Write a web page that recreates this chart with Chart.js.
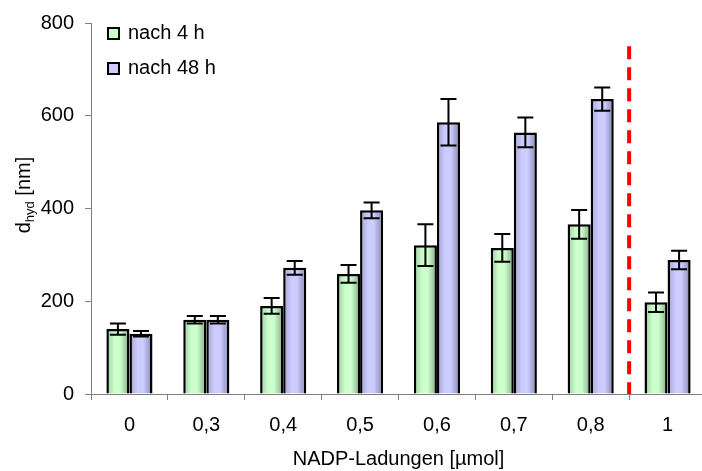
<!DOCTYPE html>
<html>
<head>
<meta charset="utf-8">
<script src="https://cdn.jsdelivr.net/npm/chart.js@4.4.0/dist/chart.umd.min.js"></script>
<style>
html,body{margin:0;padding:0;background:#fff;overflow:hidden;}
#wrap{width:702px;height:471px;position:relative;overflow:hidden;}
</style>
</head>
<body>
<div id="wrap"><canvas id="c" width="706" height="471"></canvas></div>
<script>
const categories = ['0', '0,3', '0,4', '0,5', '0,6', '0,7', '0,8', '1'];
const seriesNames = ['nach 4 h', 'nach 48 h'];
const values4h = [140, 160, 190, 259, 321, 315, 366, 198];
const errors4h = [12, 8, 17, 19, 45, 30, 31, 21];
const values48h = [130, 160, 272, 396, 586, 564, 636, 289];
const errors48h = [6, 8, 15, 17, 50, 32, 25, 20];
const yTicks = [0, 200, 400, 600, 800];
const dividerAfterIndex = 6;   // dashed line between '0,8' and '1'
const dividerTop = 750;

const FONT = 'Arial, "Liberation Sans", sans-serif';
const CAT_PCT = 0.6;

const palettes = [
  {edgeL: '#9ccc9c', mid: '#ccffcc', edgeR: '#86a886', flat: '#ccffcc'},
  {edgeL: '#a0a0d0', mid: '#ccccff', edgeR: '#8484ae', flat: '#ccccff'}
];

function barGradient(c) {
  const pal = palettes[c.datasetIndex];
  const ch = c.chart;
  const xs = ch.scales && ch.scales.x;
  if (!xs || !ch.chartArea || c.dataIndex == null || c.type !== 'data') return pal.flat;
  const cw = xs.getPixelForValue(1) - xs.getPixelForValue(0);
  const bw = cw * CAT_PCT / 2;
  const cx = xs.getPixelForValue(c.dataIndex) + (c.datasetIndex === 0 ? -bw / 2 : bw / 2);
  const g = ch.ctx.createLinearGradient(cx - bw / 2, 0, cx + bw / 2, 0);
  g.addColorStop(0, pal.edgeL);
  g.addColorStop(0.35, pal.mid);
  g.addColorStop(0.6, pal.mid);
  g.addColorStop(1, pal.edgeR);
  return g;
}

const errorsBy = [errors4h, errors48h];

const errorBarPlugin = {
  id: 'errorBars',
  afterDatasetsDraw(chart) {
    const ctx = chart.ctx;
    const ys = chart.scales.y;
    ctx.save();
    ctx.strokeStyle = '#000';
    ctx.lineWidth = 2;
    chart.data.datasets.forEach((ds, di) => {
      const meta = chart.getDatasetMeta(di);
      meta.data.forEach((el, i) => {
        const v = ds.data[i], e = errorsBy[di][i];
        const x = el.x;
        const yT = ys.getPixelForValue(v + e), yB = ys.getPixelForValue(v - e);
        ctx.beginPath();
        ctx.moveTo(x, yT); ctx.lineTo(x, yB);
        ctx.moveTo(x - 8, yT); ctx.lineTo(x + 8, yT);
        ctx.moveTo(x - 8, yB); ctx.lineTo(x + 8, yB);
        ctx.stroke();
      });
    });
    ctx.restore();
  }
};

const dividerPlugin = {
  id: 'divider',
  afterDatasetsDraw(chart) {
    const ctx = chart.ctx;
    const xs = chart.scales.x, ys = chart.scales.y;
    const x = (xs.getPixelForValue(dividerAfterIndex) + xs.getPixelForValue(dividerAfterIndex + 1)) / 2;
    ctx.save();
    ctx.strokeStyle = '#ff0000';
    ctx.lineWidth = 4;
    ctx.setLineDash([13, 8]);
    ctx.beginPath();
    ctx.moveTo(x, ys.getPixelForValue(dividerTop));
    ctx.lineTo(x, ys.getPixelForValue(0));
    ctx.stroke();
    ctx.restore();
  }
};

const legendPlugin = {
  id: 'customLegend',
  afterDraw(chart) {
    const ctx = chart.ctx;
    ctx.save();
    const items = [{y: 33}, {y: 68}];
    items.forEach((it, i) => {
      ctx.fillStyle = palettes[i].flat;
      ctx.fillRect(108, it.y - 5, 11, 11);
      ctx.strokeStyle = '#000';
      ctx.lineWidth = 2;
      ctx.strokeRect(108, it.y - 5, 11, 11);
      ctx.fillStyle = '#000';
      ctx.font = '20px ' + FONT;
      ctx.textBaseline = 'middle';
      ctx.textAlign = 'left';
      ctx.fillText(seriesNames[i], 128, it.y);
    });
    ctx.restore();
  }
};

const yTitlePlugin = {
  id: 'yTitle',
  afterDraw(chart) {
    const ctx = chart.ctx;
    ctx.save();
    ctx.translate(24, 195);
    ctx.rotate(-Math.PI / 2);
    ctx.fillStyle = '#000';
    ctx.textBaseline = 'middle';
    ctx.textAlign = 'left';
    const big = '20px ' + FONT, small = '13px ' + FONT;
    ctx.font = big; const w1 = ctx.measureText('d').width; const w3 = ctx.measureText(' [nm]').width;
    ctx.font = small; const w2 = ctx.measureText('hyd').width;
    let x = -(w1 + w2 + w3) / 2;
    ctx.font = big; ctx.fillText('d', x, 0); x += w1;
    ctx.font = small; ctx.fillText('hyd', x, 6); x += w2;
    ctx.font = big; ctx.fillText(' [nm]', x, 0);
    ctx.restore();
  }
};

new Chart(document.getElementById('c'), {
  type: 'bar',
  data: {
    labels: categories,
    datasets: [
      {label: seriesNames[0], data: values4h, backgroundColor: barGradient, borderColor: '#000', borderWidth: 2.5, borderSkipped: 'bottom'},
      {label: seriesNames[1], data: values48h, backgroundColor: barGradient, borderColor: '#000', borderWidth: 2.5, borderSkipped: 'bottom'}
    ]
  },
  options: {
    responsive: false,
    animation: false,
    devicePixelRatio: 1,
    layout: {padding: {top: 9, right: 0, left: 0, bottom: 0}},
    datasets: {bar: {categoryPercentage: CAT_PCT, barPercentage: 1}},
    plugins: {legend: {display: false}, tooltip: {enabled: false}},
    scales: {
      x: {
        offset: true,
        grid: {offset: true, drawOnChartArea: false, drawTicks: true, tickLength: 6, color: '#808080', lineWidth: 1},
        border: {color: '#808080', width: 1},
        ticks: {color: '#000', font: {family: FONT, size: 20}, padding: 13, maxRotation: 0},
        title: {display: true, text: 'NADP-Ladungen [µmol]', color: '#000', font: {family: FONT, size: 20}, padding: {top: 0, bottom: 0}},
        afterFit(s) { s.height = 77; }
      },
      y: {
        min: 0, max: 800,
        afterBuildTicks(s) { s.ticks = yTicks.map(v => ({value: v})); },
        grid: {drawOnChartArea: false, drawTicks: true, tickLength: 6, color: '#808080', lineWidth: 1},
        border: {color: '#808080', width: 1},
        ticks: {color: '#000', font: {family: FONT, size: 20}, padding: 11},
        afterFit(s) { s.width = 91; }
      }
    }
  },
  plugins: [errorBarPlugin, dividerPlugin, legendPlugin, yTitlePlugin]
});
</script>
</body>
</html>
